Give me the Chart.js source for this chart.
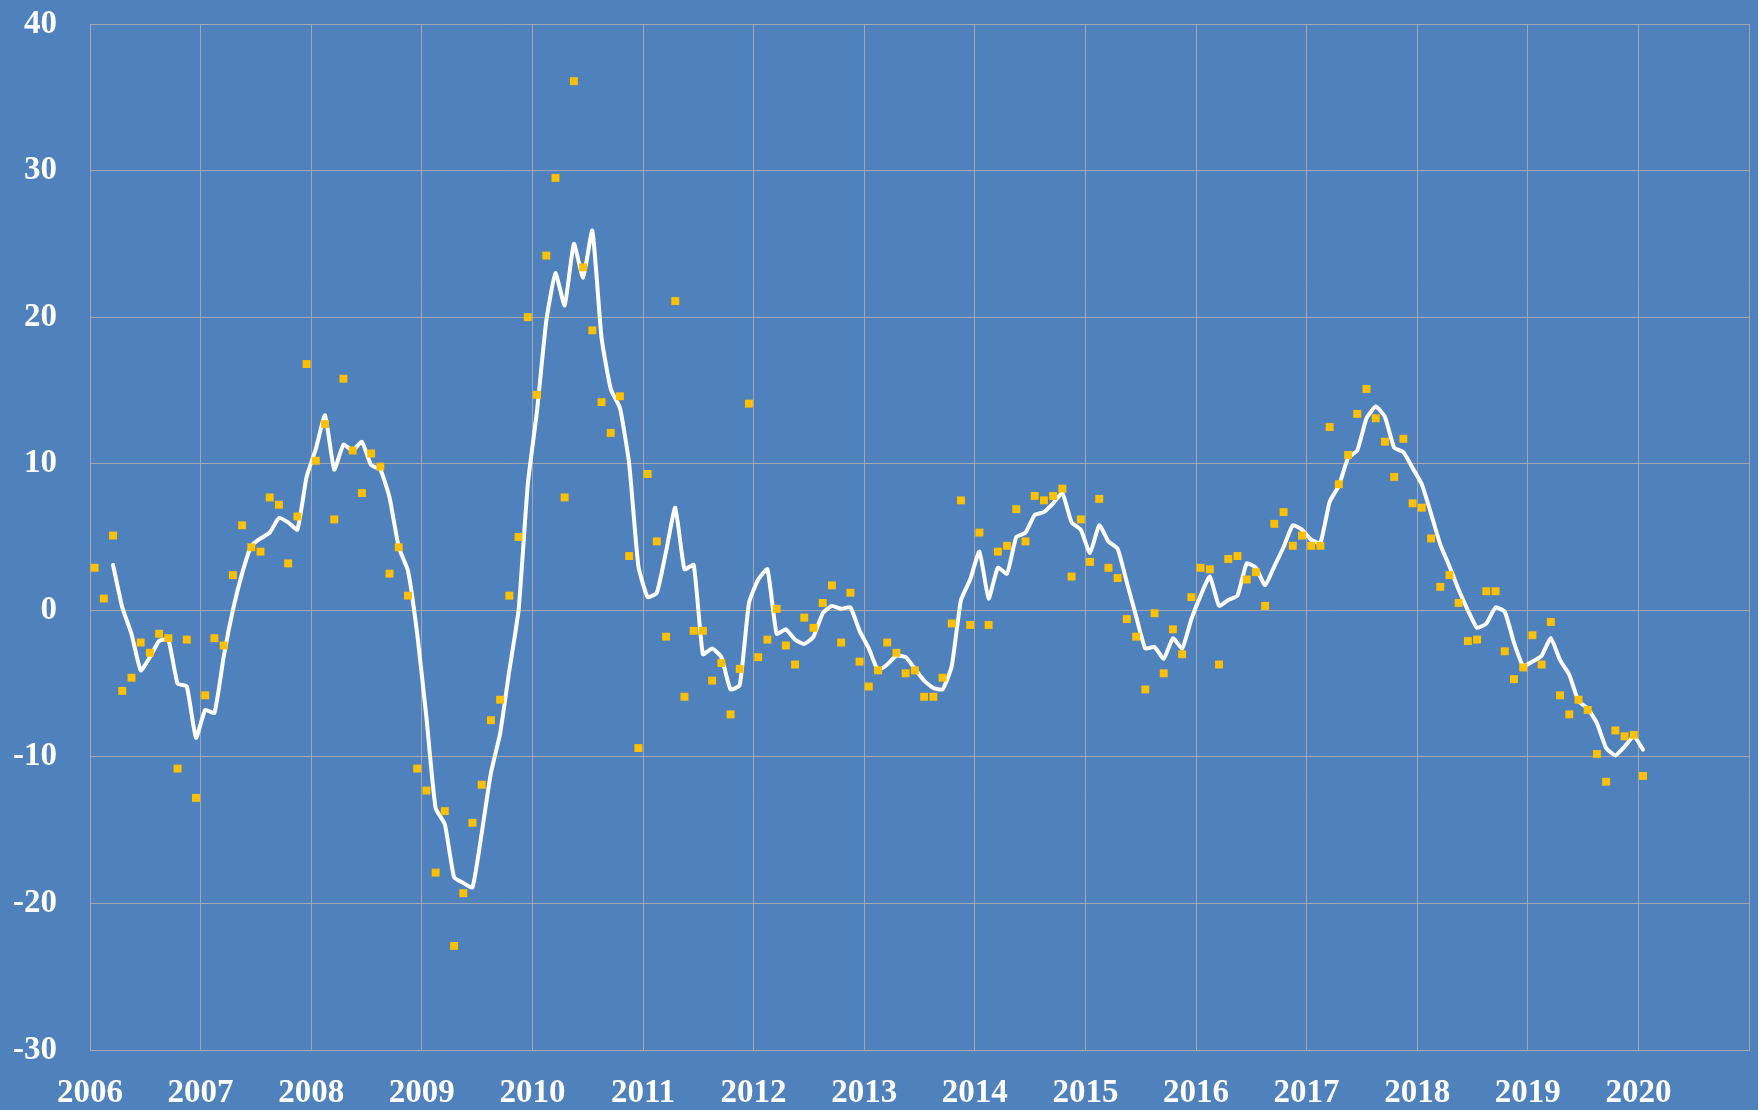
<!DOCTYPE html>
<html>
<head>
<meta charset="utf-8">
<script src="https://cdn.jsdelivr.net/npm/chart.js@4.4.1/dist/chart.umd.min.js"></script>
<style>
    html, body { margin: 0; padding: 0; background: #4f81bd; }
    #wrap { width: 1758px; height: 1110px; }
</style>
</head>
<body>
<div id="wrap"><canvas id="chart"></canvas></div>
<script>
// Monthly values, Jan 2006 .. Jan 2020 (one row per year)
const firstYear = 2006;
const lastYear = 2021;
const yMin = -30;
const yMax = 40;
const yStep = 10;

const monthly = [
    2.9, 0.8, 5.1, -5.5, -4.6, -2.2, -2.9, -1.6, -1.9, -10.8, -2.0, -12.8,
    -5.8, -1.9, -2.4, 2.4, 5.8, 4.3, 4.0, 7.7, 7.2, 3.2, 6.4, 16.8,
    10.2, 12.7, 6.2, 15.8, 10.9, 8.0, 10.7, 9.8, 2.5, 4.3, 1.0, -10.8,
    -12.3, -17.9, -13.7, -22.9, -19.3, -14.5, -11.9, -7.5, -6.1, 1.0, 5.0, 20.0,
    14.7, 24.2, 29.5, 7.7, 36.1, 23.4, 19.1, 14.2, 12.1, 14.6, 3.7, -9.4,
    9.3, 4.7, -1.8, 21.1, -5.9, -1.4, -1.4, -4.8, -3.6, -7.1, -4.0, 14.1,
    -3.2, -2.0, 0.1, -2.4, -3.7, -0.5, -1.2, 0.5, 1.7, -2.2, 1.2, -3.5,
    -5.2, -4.1, -2.2, -2.9, -4.3, -4.1, -5.9, -5.9, -4.6, -0.9, 7.5, -1.0,
    5.3, -1.0, 4.0, 4.4, 6.9, 4.7, 7.8, 7.5, 7.8, 8.3, 2.3, 6.2,
    3.3, 7.6, 2.9, 2.2, -0.6, -1.8, -5.4, -0.2, -4.3, -1.3, -3.0, 0.9,
    2.9, 2.8, -3.7, 3.5, 3.7, 2.1, 2.6, 0.3, 5.9, 6.7, 4.4, 5.1,
    4.4, 4.4, 12.5, 8.6, 10.6, 13.4, 15.1, 13.1, 11.5, 9.1, 11.7, 7.3,
    7.0, 4.9, 1.6, 2.4, 0.5, -2.1, -2.0, 1.3, 1.3, -2.8, -4.7, -3.9,
    -1.7, -3.7, -0.8, -5.8, -7.1, -6.1, -6.8, -9.8, -11.7, -8.2, -8.6, -8.5,
    -11.3
];

// Smoothed line, same months (first two months have no value)
const smoothed = [
    null, null, 3.1, 0.2, -1.6, -4.1, -3.2, -2.1, -2.0, -5.0, -5.2, -8.7,
    -6.8, -7.0, -3.2, 0.0, 2.5, 4.4, 4.9, 5.3, 6.3, 6.0, 5.5, 9.1,
    11.0, 13.3, 9.6, 11.3, 10.9, 11.5, 9.9, 9.6, 7.7, 4.3, 2.7, -1.6,
    -7.3, -13.5, -14.6, -18.2, -18.6, -18.9, -15.2, -11.1, -8.4, -4.1, 0.0, 8.6,
    13.6, 19.7, 23.0, 20.8, 25.0, 22.7, 25.9, 18.6, 15.1, 13.8, 10.0, 3.0,
    0.9, 1.2, 4.0, 7.0, 2.8, 3.1, -3.0, -2.6, -3.2, -5.4, -5.1, 0.5,
    2.1, 2.8, -1.6, -1.3, -2.0, -2.3, -1.8, -0.2, 0.3, 0.1, 0.2, -1.4,
    -2.6, -4.1, -3.7, -3.1, -3.2, -4.0, -4.8, -5.3, -5.4, -3.8, 0.7, 2.1,
    4.0, 0.8, 2.9, 2.5, 5.0, 5.3, 6.5, 6.7, 7.3, 8.0, 6.0, 5.5,
    3.9, 5.8, 4.7, 4.2, 1.9, -0.4, -2.6, -2.5, -3.3, -1.9, -2.6, -0.6,
    1.0, 2.3, 0.3, 0.7, 1.0, 3.2, 2.9, 1.7, 3.0, 4.3, 5.8, 5.5,
    4.8, 4.6, 7.4, 8.5, 10.4, 10.9, 13.1, 13.9, 13.2, 11.1, 10.8, 9.7,
    8.6, 6.6, 4.5, 3.0, 1.4, 0.0, -1.2, -0.9, 0.2, -0.1, -2.2, -3.8,
    -3.5, -3.1, -1.9, -3.4, -4.4, -6.2, -6.7, -7.7, -9.4, -9.9, -9.3, -8.6,
    -9.5
];

// each month sits in the middle of its slot on the year axis
function monthX(i) {
    return firstYear + (i + 0.5) / 12;
}

const pointData = monthly.map((v, i) => ({ x: monthX(i), y: v }));
const lineData = [];
smoothed.forEach((v, i) => {
    if (v !== null) lineData.push({ x: monthX(i), y: v });
});

// Paint the blue background behind everything
const background = {
    id: 'background',
    beforeDraw(chart) {
        const ctx = chart.ctx;
        ctx.save();
        ctx.fillStyle = '#4f81bd';
        ctx.fillRect(0, 0, chart.width, chart.height);
        ctx.restore();
    }
};

// labels may hang over the plot edges, so drop the scale's own edge padding
function noEdgePadding(scale) {
    scale.paddingTop = 0;
    scale.paddingBottom = 0;
    scale.paddingLeft = 0;
    scale.paddingRight = 0;
}

const gridColor = 'rgba(170, 170, 175, 0.9)';
const tickFont = { family: 'Liberation Serif', size: 33, weight: 'bold' };

const ctx = document.getElementById('chart').getContext('2d');
new Chart(ctx, {
    type: 'scatter',
    data: {
        datasets: [{
            label: 'monthly',
            data: pointData,
            backgroundColor: '#ffc000',
            borderWidth: 0,
            pointStyle: 'rect',
            pointRadius: 5.6,
            order: 0
        }, {
            type: 'line',
            label: 'smoothed',
            data: lineData,
            borderColor: '#ffffff',
            borderWidth: 4,
            borderJoinStyle: 'round',
            borderCapStyle: 'round',
            tension: 0.15,
            pointRadius: 0,
            fill: false,
            order: 1
        }]
    },
    options: {
        responsive: true,
        maintainAspectRatio: false,
        devicePixelRatio: 1,
        animation: false,
        layout: {
            padding: { top: 24, right: 9, left: 0, bottom: 0 }
        },
        plugins: {
            legend: { display: false },
            tooltip: { enabled: false }
        },
        scales: {
            x: {
                type: 'linear',
                min: firstYear,
                max: lastYear,
                afterFit(scale) {
                    scale.height = 60;
                    noEdgePadding(scale);
                },
                ticks: {
                    stepSize: 1,
                    color: '#ffffff',
                    font: tickFont,
                    padding: 24,
                    maxRotation: 0,
                    autoSkip: false,
                    callback: (v) => (v >= lastYear ? '' : String(v))
                },
                grid: { color: gridColor, lineWidth: 1, drawTicks: false },
                border: { color: gridColor }
            },
            y: {
                min: yMin,
                max: yMax,
                afterFit(scale) {
                    scale.width = 90;
                    noEdgePadding(scale);
                },
                ticks: {
                    stepSize: yStep,
                    color: '#ffffff',
                    font: tickFont,
                    padding: 33
                },
                grid: { color: gridColor, lineWidth: 1, drawTicks: false },
                border: { color: gridColor }
            }
        }
    },
    plugins: [background]
});
</script>
</body>
</html>
